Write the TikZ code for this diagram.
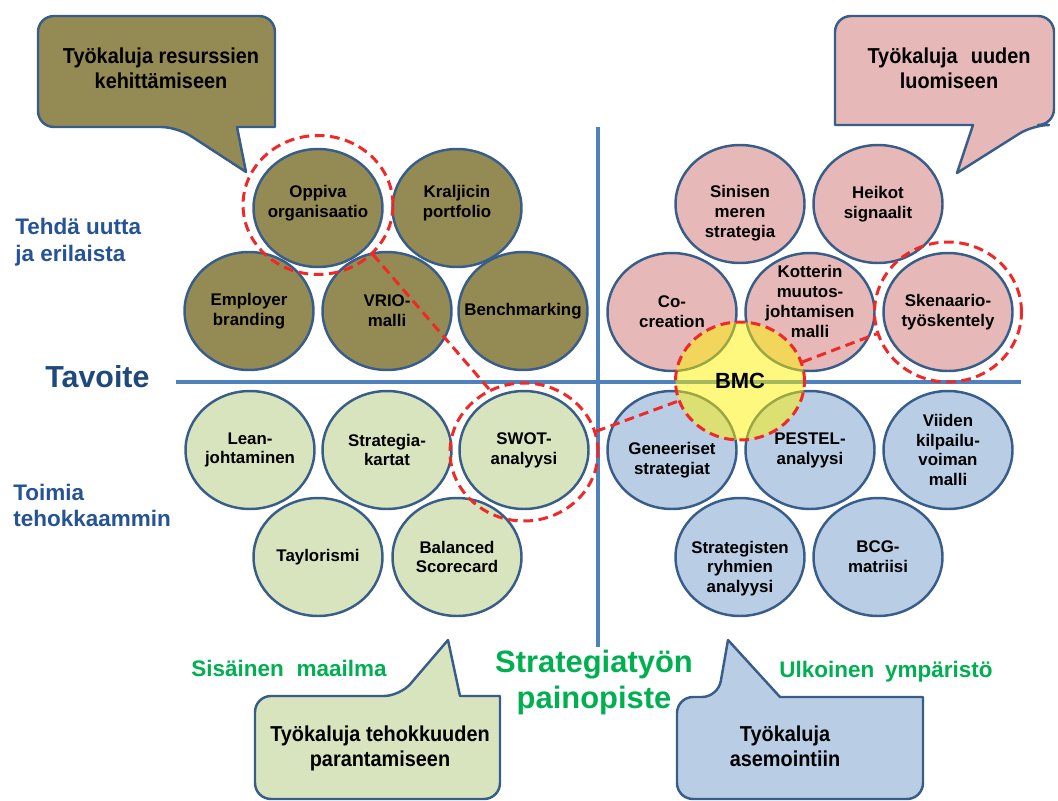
\documentclass[tikz,border=0pt]{standalone}
\usepackage{fontspec}
\setmainfont{Liberation Sans}
\newfontfamily\narrowsans{Liberation Sans}[FakeStretch=0.92]
\usetikzlibrary{shapes.geometric}

\definecolor{olivefill}{HTML}{948A54}
\definecolor{pinkfill}{HTML}{E6B9B8}
\definecolor{greenfill}{HTML}{D7E4BD}
\definecolor{bluefill}{HTML}{B9CDE5}
\definecolor{edgeblue}{HTML}{385D8A}
\definecolor{axisblue}{HTML}{4F81BD}
\definecolor{focusred}{HTML}{F02828}
\definecolor{labelgreen}{HTML}{00B050}
\definecolor{goalblue}{HTML}{1F497D}
\definecolor{sideblue}{RGB}{38,82,150}

\begin{document}
\begin{tikzpicture}[x=0.02cm, y=-0.02cm,
  tool/.style={ellipse, draw=edgeblue, line width=1.4pt,
    minimum width=2.58cm, minimum height=2.36cm, inner sep=0pt},
  tooltext/.style={align=center, inner sep=0pt, text=black,
    font=\fontsize{9.6}{11.3}\selectfont\bfseries},
  lbl/.style 2 args={label={[tooltext, yshift=#1]center:{#2}}},
  focus/.style={ellipse, draw=focusred, line width=1.7pt,
    dash pattern=on 5.5pt off 3.2pt, inner sep=0pt},
  link/.style={draw=focusred, line width=1.7pt, dash pattern=on 5.5pt off 3.2pt},
  axis/.style={draw=axisblue, line width=2pt},
  bubble/.style={draw=edgeblue, line width=1.4pt, line join=round},
  bubbletext/.style={align=center, inner sep=0pt, text=black,
    font=\narrowsans\bfseries\fontsize{12.3}{14.2}\selectfont},
  sidelabel/.style={align=left, inner sep=0pt, text=sideblue, anchor=west,
    font=\bfseries\fontsize{12.8}{15.3}\selectfont},
  worldlabel/.style={inner sep=0pt, text=labelgreen, anchor=base,
    font=\bfseries\fontsize{12.8}{15}\selectfont}
]
\useasboundingbox (0,0) rectangle (1058,801);

% ---- axes ----
\coordinate (hl) at (176,382);
\coordinate (hr) at (1021,382);
\coordinate (vt) at (598,127);
\coordinate (vb) at (598,647);
\draw[axis] (hl) -- (hr);
\draw[axis] (vt) -- (vb);

% ---- speech bubbles (rounded box, sharp pointer) ----
\draw[bubble, fill=olivefill] (150,16) [rounded corners=0.32cm] -- (38,16) -- (38,127)
  -- (177,127) [sharp corners] -- (246,172) -- (237,127) -- (275,127)
  [rounded corners=0.32cm] -- (275,16) -- cycle;
\draw[bubble, fill=pinkfill] (940,16) [rounded corners=0.32cm] -- (1054,16) -- (1054,125)
  -- (1033,125) [sharp corners] -- (957,173) -- (973,125) -- (835,125)
  [rounded corners=0.32cm] -- (835,16) -- cycle;
\draw[bubble, fill=greenfill] (380,799) [rounded corners=0.32cm] -- (255,799) -- (255,696)
  -- (400,696) [sharp corners] -- (448,640) -- (460,696) -- (500,696)
  [rounded corners=0.32cm] -- (500,799) -- cycle;
\draw[bubble, fill=bluefill] (800,799) [rounded corners=0.32cm] -- (677,799) -- (677,697)
  -- (718,697) [sharp corners] -- (728,640) -- (780,697) -- (923,697)
  [rounded corners=0.32cm] -- (923,799) -- cycle;

\node[bubbletext] (bubTL) at (161,68.5) {Työkaluja resurssien\\kehittämiseen};
\node[bubbletext] (bubTR) at (949,68) {Työkaluja\hspace{0.35em} uuden\\luomiseen};
\node[bubbletext] (bubBL) at (380,748.5) {Työkaluja tehokkuuden\\parantamiseen};
\node[bubbletext] (bubBR) at (785,746.5) {Työkaluja\\asemointiin};

% ---- resources (olive) ----
\node[tool, fill=olivefill, lbl={0.09cm}{Oppiva\\organisaatio}] (oppiva) at (318,208) {};
\node[tool, fill=olivefill, lbl={0.09cm}{Kraljicin\\portfolio}] (kraljic) at (457,208) {};
\node[tool, fill=olivefill, lbl={0cm}{Employer\\branding}] (employer) at (249,311) {};
\node[tool, fill=olivefill, lbl={0cm}{VRIO-\\malli}] (vrio) at (387,311) {};
\node[tool, fill=olivefill, lbl={0cm}{Benchmarking}] (bench) at (523,311) {};

% ---- renewal (pink) ----
\node[tool, fill=pinkfill, lbl={-0.19cm}{Sinisen\\meren\\strategia}] (sinisen) at (740,204) {};
\node[tool, fill=pinkfill, lbl={0cm}{Heikot\\signaalit}] (heikot) at (878,204) {};
\node[tool, fill=pinkfill, lbl={0cm}{Co-\\creation}] (cocreation) at (672,312) {};
\node[tool, fill=pinkfill, lbl={0.21cm}{Kotterin\\muutos-\\johtamisen\\malli}] (kotter) at (810,312) {};
\node[tool, fill=pinkfill, lbl={0cm}{Skenaario-\\työskentely}] (skenaario) at (948,312) {};

% ---- efficiency (light green) ----
\node[tool, fill=greenfill, lbl={0cm}{Lean-\\johtaminen}] (lean) at (250,450) {};
\node[tool, fill=greenfill, lbl={0cm}{Strategia-\\kartat}] (skartat) at (387,450) {};
\node[tool, fill=greenfill, lbl={0cm}{SWOT-\\analyysi}] (swot) at (524,450) {};
\node[tool, fill=greenfill, lbl={0cm}{Taylorismi}] (taylor) at (318,557) {};
\node[tool, fill=greenfill, lbl={0cm}{Balanced\\Scorecard}] (bsc) at (457,557) {};

% ---- positioning (light blue) ----
\node[tool, fill=bluefill, lbl={-0.21cm}{Geneeriset\\strategiat}] (geneeriset) at (672,450) {};
\node[tool, fill=bluefill, lbl={0cm}{PESTEL-\\analyysi}] (pestel) at (810,450) {};
\node[tool, fill=bluefill, lbl={0cm}{Viiden\\kilpailu-\\voiman\\malli}] (viiden) at (948,450) {};
\node[tool, fill=bluefill, lbl={-0.23cm}{Strategisten\\ryhmien\\analyysi}] (sryhmat) at (740,557) {};
\node[tool, fill=bluefill, lbl={0cm}{BCG-\\matriisi}] (bcg) at (878,557) {};

% ---- business model canvas in the middle ----
\node[focus, fill=yellow, fill opacity=0.5, text opacity=1,
  minimum width=2.58cm, minimum height=2.36cm,
  font=\bfseries\fontsize{12.5}{14}\selectfont] (bmc) at (740,381) {BMC};

% ---- highlighted tools and their link ----
\node[focus, minimum width=3.0cm, minimum height=2.78cm] (oppivaF) at (318,205) {};
\node[focus, minimum width=2.96cm, minimum height=2.76cm] (swotF) at (524,452) {};
\node[focus, minimum width=2.94cm, minimum height=2.8cm] (skenaarioF) at (948,312) {};
\draw[link] (oppivaF.-42) -- (swotF.119);
\draw[link] (swotF.16) -- (bmc.-162);
\draw[link] (bmc.17) -- (skenaarioF.-163);

% ---- axis labels ----
\node[sidelabel] (uutta) at (15,242.6) {Tehdä uutta\\ja erilaista};
\node[sidelabel] (tehok) at (13,505.5) {Toimia\\tehokkaammin};
\node[inner sep=0pt, anchor=base west, text=goalblue,
  font=\bfseries\fontsize{17.3}{20}\selectfont] (tavoite) at (45,387) {Tavoite};
\node[align=center, inner sep=0pt, text=labelgreen,
  font=\bfseries\fontsize{17.6}{20.2}\selectfont] (painopiste) at (594,682.5) {Strategiatyön\\painopiste};
\node[worldlabel] (sisainen) at (289,676) {Sisäinen\hspace{0.3em} maailma};
\node[worldlabel] (ulkoinen) at (886,677) {Ulkoinen\hspace{0.2em} ympäristö};
\end{tikzpicture}
\end{document}
